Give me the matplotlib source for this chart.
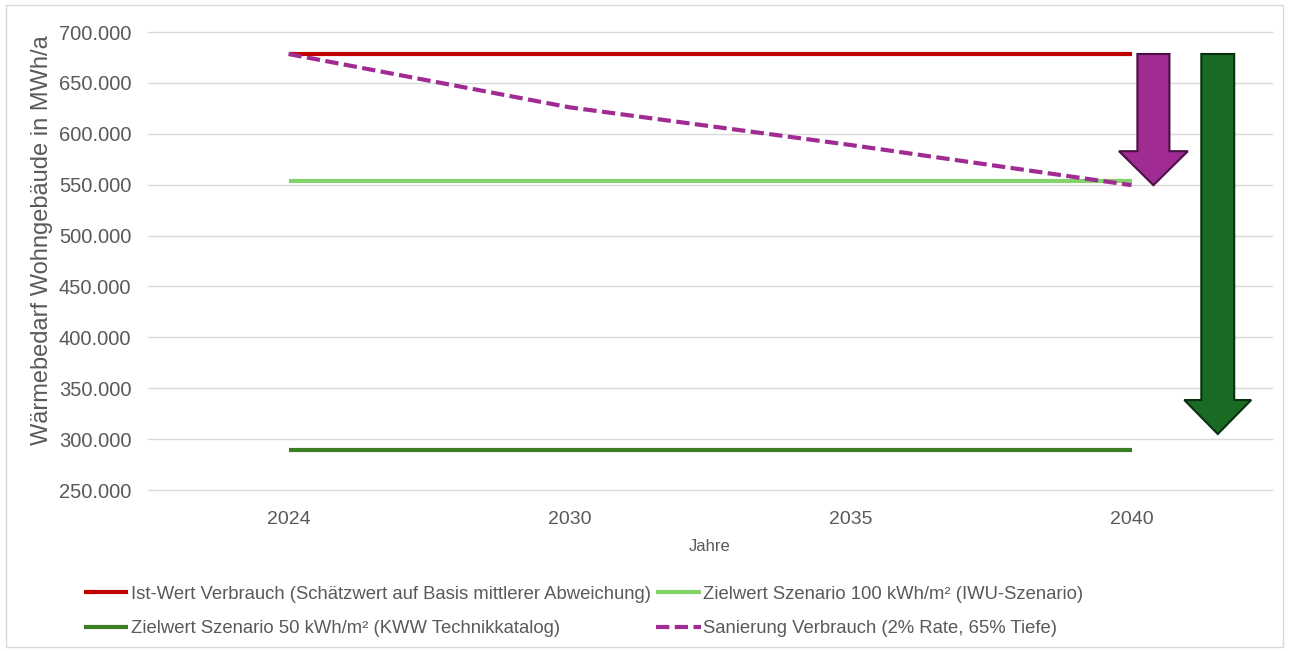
import matplotlib.pyplot as plt
from matplotlib.patches import FancyArrow, Rectangle
from matplotlib.ticker import FuncFormatter
import numpy as np

# Data (MWh/a)
years = ['2024', '2030', '2035', '2040']
ist_wert = [678400, 678400, 678400, 678400]
ziel_100 = [553600, 553600, 553600, 553600]
ziel_50 = [289300, 289300, 289300, 289300]
sanierung = [678400, 626000, 589000, 549500]

labels = [
    'Ist-Wert Verbrauch (Schätzwert auf Basis mittlerer Abweichung)',
    'Zielwert Szenario 100 kWh/m² (IWU-Szenario)',
    'Zielwert Szenario 50 kWh/m² (KWW Technikkatalog)',
    'Sanierung Verbrauch (2% Rate, 65% Tiefe)',
]

plt.rcParams['font.family'] = ['Liberation Sans', 'DejaVu Sans']
grey = '#595959'

fig = plt.figure(figsize=(12.9, 6.51), dpi=100)
ax = fig.add_axes([148 / 1290, 1 - 490 / 651, (1272 - 148) / 1290, (490 - 32) / 651])

# outer chart border
fig.patches.append(Rectangle((6 / 1290, 4 / 651), 1277 / 1290, 642 / 651,
                             transform=fig.transFigure, fill=False,
                             edgecolor='#D9D9D9', linewidth=1))

x = np.arange(len(years))
l_ist, = ax.plot(x, ist_wert, color='#C00000', lw=3, solid_capstyle='butt', zorder=3)
l_100, = ax.plot(x, ziel_100, color='#84D26B', lw=3, solid_capstyle='butt', zorder=3)
l_50, = ax.plot(x, ziel_50, color='#3A7D22', lw=3, solid_capstyle='butt', zorder=3)
l_san, = ax.plot(x, sanierung, color='#A02B93', lw=3, ls=(0, (3.2, 1.3)), zorder=4)

ax.set_xlim(-0.5, len(years) - 0.5)
ax.set_ylim(250000, 700000)
ax.set_yticks(np.arange(250000, 700001, 50000))
ax.yaxis.set_major_formatter(FuncFormatter(lambda v, p: f'{int(v):,}'.replace(',', '.')))
ax.set_xticks(x)
ax.set_xticklabels(years)
ax.grid(axis='y', color='#D9D9D9', lw=1)
for gl in ax.get_ygridlines():
    gl.set_clip_on(False)
ax.set_axisbelow(True)
for s in ax.spines.values():
    s.set_visible(False)
ax.tick_params(axis='both', length=0, colors=grey)
ax.tick_params(axis='y', labelsize=14.5, pad=12)
ax.tick_params(axis='x', labelsize=14, pad=15)

ax.set_ylabel('Wärmebedarf Wohngebäude in MWh/a', fontsize=17, color=grey, labelpad=4)
ax.yaxis.label.set_y(0.546)
ax.set_xlabel('Jahre', fontsize=12, color=grey, labelpad=8)

# reduction arrows
ax.add_patch(FancyArrow(3.078, ist_wert[-1], 0, sanierung[-1] - ist_wert[-1],
                        width=0.114, head_width=0.245, head_length=33400,
                        length_includes_head=True, facecolor='#A02B93',
                        edgecolor='#4A1043', lw=1.5, zorder=5, clip_on=False))
ax.add_patch(FancyArrow(3.307, ist_wert[-1], 0, 305000 - ist_wert[-1],
                        width=0.117, head_width=0.238, head_length=33400,
                        length_includes_head=True, facecolor='#196B24',
                        edgecolor='#0B2E10', lw=1.5, zorder=5, clip_on=False))

fig.legend([l_ist, l_50, l_100, l_san], [labels[0], labels[2], labels[1], labels[3]],
           loc='upper left', bbox_to_anchor=(67 / 1290, 1 - 569 / 651), ncol=2,
           frameon=False, fontsize=13.3, labelcolor=grey, handlelength=2.4,
           handletextpad=0.15, columnspacing=0.3, labelspacing=0.95)

fig.savefig('out.png', dpi=100, facecolor='white')
